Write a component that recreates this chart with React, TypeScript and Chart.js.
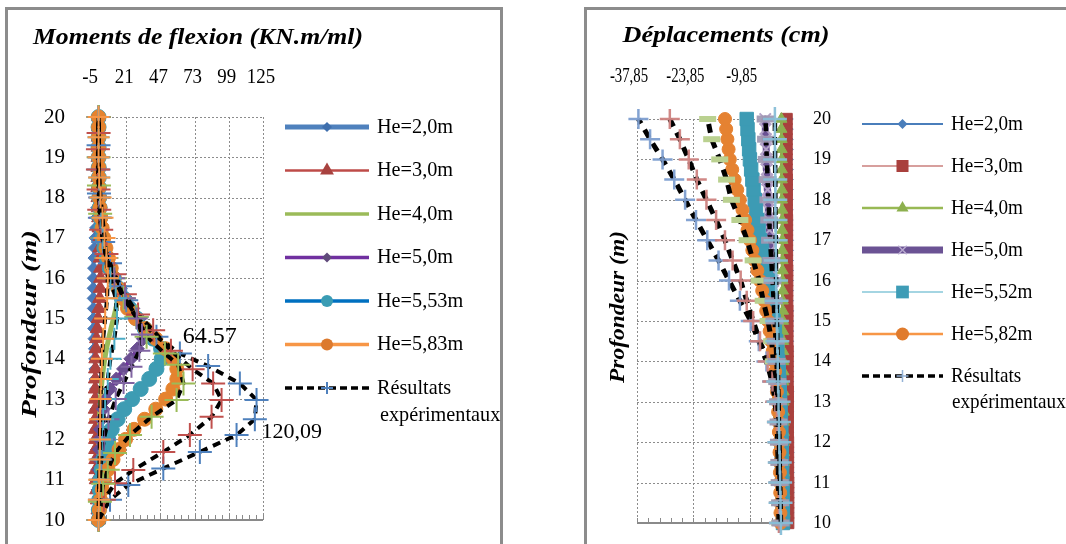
import React, { useEffect, useRef } from "react";
import { Chart, registerables } from "chart.js";
Chart.register(...registerables);

const SERIF = "'Liberation Serif', 'Times New Roman', Times, serif";
const GRID = "#8c8c8c";
const AXIS = "#8a8a8a";

// ---------------- Shared depth values (Profondeur, m) ----------------
const depthTicks = [10, 11, 12, 13, 14, 15, 16, 17, 18, 19, 20];
const depthModel = [10, 10.25, 10.5, 10.75, 11, 11.25, 11.5, 11.75, 12, 12.25, 12.5, 12.75, 13, 13.25, 13.5, 13.75, 14, 14.25, 14.5, 14.75, 15, 15.25, 15.5, 15.75, 16, 16.25, 16.5, 16.75, 17, 17.25, 17.5, 17.75, 18, 18.25, 18.5, 18.75, 19, 19.25, 19.5, 19.75, 20];
const depthHalf = [10, 10.5, 11, 11.5, 12, 12.5, 13, 13.5, 14, 14.5, 15, 15.5, 16, 16.5, 17, 17.5, 18, 18.5, 19, 19.5, 20];

// ---------------- Left chart: Moments de flexion (KN.m/ml) ----------------
const momentTicks = [-5, 21, 47, 73, 99, 125];
const momentTickLabels = ["-5", "21", "47", "73", "99", "125"];
const momentLegend = ["He=2,0m", "He=3,0m", "He=4,0m", "He=5,0m", "He=5,53m", "He=5,83m", "Résultats"];

const momentHe20 = [0, -0.5, -0.8, -1, -1, -1.2, -1.3, -1.5, -1.6, -1.7, -1.8, -2, -2.1, -2.3, -2.5, -2.7, -3, -3.2, -3.5, -3.7, -3.9, -4, -4.1, -4.1, -4, -3.8, -3.5, -3.1, -2.7, -2.2, -1.8, -1.4, -1, -0.7, -0.5, -0.3, -0.2, -0.1, 0, 0, 0];
const momentHe30 = [0, -0.5, -1, -1.5, -1.8, -2, -2.2, -2.3, -2.4, -2.5, -2.5, -2.6, -2.6, -2.6, -2.5, -2.4, -2.2, -2, -1.6, -1, -0.4, 0.2, 0.8, 1.2, 1.4, 1.4, 1.2, 0.9, 0.6, 0.3, 0, -0.3, -0.5, -0.6, -0.6, -0.6, -0.5, -0.4, -0.3, -0.1, 0];
const momentHe40 = [0, 0, 0, 0, 0, 0.1, 0.2, 0.3, 0.4, 0.6, 0.8, 1.1, 1.5, 2, 2.7, 3.6, 4.7, 6, 7.6, 9.4, 11.3, 13.2, 14.6, 13.5, 10.5, 7.8, 5.6, 3.9, 2.6, 1.7, 1.1, 0.7, 0.4, 0.2, 0.1, 0, 0, 0, 0, 0, 0];
const momentHe50 = [0, 0, 0, 0.1, 0.2, 0.3, 0.4, 0.6, 0.9, 1.4, 2.2, 3.5, 5.5, 8.8, 13.5, 19, 24.5, 29.5, 34, 35.5, 31, 26, 21, 16.5, 12.5, 9.2, 6.6, 4.6, 3.1, 2, 1.3, 0.8, 0.5, 0.3, 0.2, 0.1, 0, 0, 0, 0, 0];
const momentHe553 = [0, 0.2, 0.5, 0.9, 1.5, 2.4, 3.6, 5.3, 7.4, 10, 14.5, 19.5, 25.5, 32, 38.5, 44, 48, 47.5, 41.5, 35, 29, 23.5, 19, 15, 11.5, 8.5, 6.2, 4.4, 3, 2, 1.3, 0.8, 0.5, 0.3, 0.2, 0.1, 0, 0, 0, 0, 0];
const momentHe583 = [0, 0.6, 1.5, 2.8, 4.6, 7.2, 11, 15.5, 20.5, 27, 35, 43.5, 51, 56.5, 59.5, 59.5, 56.5, 51, 43.5, 35.5, 28, 22, 18, 14.8, 12, 9.6, 7.5, 5.6, 4, 2.7, 1.7, 1, 0.6, 0.3, 0.2, 0.1, 0, 0, 0, 0, 0];

const expDepthA = [10, 10.5, 10.87, 11.28, 11.69, 12.11, 12.5, 12.98, 13.39, 13.82, 14.13, 14.55, 15.04, 15.45, 15.8, 16.37, 16.9, 17.5, 18.1, 18.7, 19.3, 20];
const momentExpA = [0, 8.7, 22.6, 49.2, 77, 104.9, 118.8, 120.09, 107.4, 83.3, 61.8, 44, 28.9, 21, 16.3, 8.7, 3.5, 1, 0.3, 0, 0, 0];
const expDepthB = [10, 10.5, 10.91, 11.24, 11.69, 12.11, 12.56, 12.98, 13.39, 13.74, 14.2, 14.71, 15.1, 15.6, 16.1, 16.6, 17.2, 17.7, 18.2, 18.7, 19.2, 19.6, 20];
const momentExpB = [0, 4, 12.5, 26.4, 49.2, 69.4, 85.9, 93.5, 87.1, 71.5, 55, 41.5, 30, 20, 12, 6, 2, 0.5, 0, -0.5, -0.5, 0, 0];
const expDepthC = [10, 10.45, 10.9, 11.25, 11.66, 12.11, 12.56, 12.98, 13.39, 13.85, 14.13, 14.55, 15.04, 15.5, 16, 16.5, 17, 17.6, 18.3, 19, 20];
const momentExpC = [0, 1, 3.5, 7, 12.5, 23.9, 40.3, 59.3, 64.57, 60.5, 50.4, 36.5, 28.9, 19, 12, 6, 3, 1.2, 0.3, 0, 0];
const expDepthD = [10, 10.5, 11, 11.5, 12, 12.5, 13, 13.4, 13.8, 14.2, 14.6, 15, 15.5, 16, 16.5, 17, 17.5, 18, 19, 20];
const momentExpD = [0, 0.3, 1, 2, 4, 7.5, 13, 19, 25, 31, 33, 29, 20, 12, 6, 3, 1.2, 0.5, 0, 0];
const momentExpE = [0, 0.5, 1, 1.5, 2.5, 3.5, 5, 7, 9, 12, 14, 13, 9, 6, 3.5, 2, 1, 0.5, 0, 0, 0];
const momentExpF = [0, 0.2, 0.5, 0.8, 1, 1.2, 1.5, 2, 2.5, 3.5, 5, 6.5, 7, 6, 4.5, 3, 1.5, 0.5, 0, 0, 0];

const momentNotes = [
  { text: "64.57", x: 84.6, y: 14.54, size: 24 },
  { text: "120,09", x: 146.9, y: 12.18, size: 22 },
];

// ---------------- Right chart: Déplacements (cm) ----------------
const dispTicks = [-37.85, -23.85, -9.85];
const dispTickLabels = ["-37,85", "-23,85", "-9,85"];
const dispMin = -37.85;
const dispMax = 0.15;
const dispLegend = ["He=2,0m", "He=3,0m", "He=4,0m", "He=5,0m", "He=5,52m", "He=5,82m", "Résultats"];

const dispHe20 = [-0.1, -0.1, -0.1, -0.1, -0.1, -0.1, -0.1, -0.1, -0.15, -0.15, -0.15, -0.15, -0.15, -0.15, -0.2, -0.2, -0.2, -0.2, -0.2, -0.2, -0.2, -0.2, -0.25, -0.25, -0.25, -0.25, -0.25, -0.25, -0.25, -0.3, -0.3, -0.3, -0.3, -0.3, -0.3, -0.3, -0.3, -0.3, -0.3, -0.3, -0.3];
const dispHe30 = [-0.3, -0.3, -0.3, -0.3, -0.3, -0.35, -0.35, -0.35, -0.35, -0.4, -0.4, -0.4, -0.4, -0.4, -0.45, -0.45, -0.45, -0.45, -0.5, -0.5, -0.5, -0.5, -0.55, -0.55, -0.55, -0.55, -0.6, -0.6, -0.6, -0.6, -0.6, -0.65, -0.65, -0.65, -0.65, -0.7, -0.7, -0.7, -0.7, -0.7, -0.7];
const dispHe40 = [-1.2, -1.2, -1.25, -1.25, -1.3, -1.3, -1.3, -1.35, -1.35, -1.4, -1.4, -1.4, -1.45, -1.45, -1.5, -1.5, -1.5, -1.55, -1.55, -1.6, -1.6, -1.6, -1.65, -1.65, -1.7, -1.7, -1.7, -1.75, -1.75, -1.8, -1.8, -1.8, -1.85, -1.85, -1.9, -1.9, -1.9, -1.95, -1.95, -2, -2];
const dispHe50 = [-1.7, -1.75, -1.8, -1.85, -1.9, -1.95, -2, -2.1, -2.2, -2.3, -2.4, -2.5, -2.6, -2.7, -2.8, -2.9, -3, -3.15, -3.3, -3.45, -3.6, -3.75, -3.9, -4.05, -4.2, -4.35, -4.5, -4.65, -4.8, -4.95, -5.1, -5.2, -5.3, -5.4, -5.5, -5.6, -5.7, -5.8, -5.85, -5.95, -6];
const dispHe552 = [-1.6, -1.62, -1.65, -1.7, -1.75, -1.8, -1.85, -1.9, -1.95, -2, -2.1, -2.2, -2.3, -2.4, -2.5, -2.65, -2.8, -3, -3.3, -3.6, -3.9, -4.2, -4.5, -4.9, -5.3, -5.8, -6.3, -6.8, -7.3, -7.65, -8, -8.3, -8.6, -8.9, -9.2, -9.5, -9.8, -10, -10.2, -10.4, -10.6];
const dispHe582 = [-2.2, -2.22, -2.25, -2.28, -2.3, -2.35, -2.4, -2.45, -2.5, -2.6, -2.7, -2.8, -2.95, -3.1, -3.3, -3.55, -3.8, -4.15, -4.5, -4.9, -5.3, -5.75, -6.2, -6.75, -7.3, -7.95, -8.6, -9.2, -9.8, -10.4, -11, -11.65, -12.3, -12.95, -13.6, -14.2, -14.8, -15.1, -15.4, -15.7, -16];

const dispExpA = [-2.5, -2.5, -2.6, -2.7, -2.8, -3, -3.4, -4.3, -5.7, -7.6, -9.6, -12.3, -15, -17.6, -20.4, -23.2, -25.9, -28.6, -31.5, -34.6, -37.5];
const dispExpB = [-2.6, -2.6, -2.7, -2.8, -2.9, -3.1, -3.5, -4.2, -5.4, -7.3, -9, -10.6, -12.1, -14.1, -16, -18.2, -20.6, -23, -25, -27.2, -29.7];
const dispExpC = [-2.4, -2.4, -2.5, -2.5, -2.6, -2.7, -2.9, -3.1, -4, -4.4, -5.3, -6.5, -7.5, -9, -10.5, -12.3, -14.4, -15.6, -17.3, -19.3, -20.3];
const dispExpD = [-2.2, -2.3, -2.4, -2.5, -2.6, -2.7, -2.8, -3, -3.2, -3.4, -3.7, -3.9, -4.2, -4.5, -4.8, -5, -5.2, -5.4, -5.6, -5.8, -5.9];
const dispExpE = [-2.1, -2.2, -2.3, -2.4, -2.5, -2.6, -2.7, -2.8, -2.9, -3, -3.1, -3.2, -3.3, -3.35, -3.4, -3.45, -3.5, -3.5, -3.55, -3.6, -3.6];

// ---------------- helpers ----------------
function pts(values: number[], depths: number[]) {
  return depths.map((d, i) => ({ x: values[i], y: d }));
}

function modelSet(label: string, values: number[], depths: number[], st: any) {
  return {
    label,
    data: pts(values, depths),
    showLine: true,
    borderColor: st.line,
    borderWidth: st.lw,
    tension: 0,
    clip: false,
    borderJoinStyle: "round",
    borderCapStyle: "round",
    pointStyle: st.ps || "circle",
    pointRadius: st.r || 0,
    pointHoverRadius: st.r || 0,
    pointBackgroundColor: st.fill,
    pointBorderColor: st.stroke || st.fill,
    pointBorderWidth: st.pbw ?? 1,
  };
}

function expSet(label: string, values: number[], depths: number[], st: any) {
  return {
    label,
    data: pts(values, depths),
    showLine: true,
    borderColor: "#000",
    borderWidth: st.lw || 4,
    borderDash: st.dash || [8, 6],
    tension: 0,
    clip: false,
    pointStyle: st.ps || "cross",
    pointRadius: st.r,
    pointHoverRadius: st.r,
    pointBackgroundColor: st.mc,
    pointBorderColor: st.mc,
    pointBorderWidth: st.pbw || 2,
  };
}

function drawText(ctx: any, s: string, x: number, y: number, font: string, align: string, opt: any = {}) {
  ctx.save();
  ctx.translate(x, y);
  if (opt.rot) ctx.rotate(opt.rot);
  ctx.font = font;
  ctx.fillStyle = "#000";
  ctx.textAlign = align;
  ctx.textBaseline = "middle";
  let sx = opt.sx ?? 1;
  if (opt.w) sx = opt.w / ctx.measureText(s).width;
  ctx.scale(sx, 1);
  ctx.fillText(s, 0, 0);
  ctx.restore();
}

function drawMarker(ctx: any, m: any, x: number, y: number) {
  if (!m) return;
  const r = m.r;
  ctx.save();
  ctx.setLineDash([]);
  ctx.fillStyle = m.fill || m.stroke;
  ctx.strokeStyle = m.stroke || m.fill;
  ctx.lineWidth = m.lw || 1;
  ctx.beginPath();
  switch (m.style) {
    case "circle":
      ctx.arc(x, y, r, 0, Math.PI * 2);
      ctx.fill();
      break;
    case "rectRot":
      ctx.moveTo(x, y - r);
      ctx.lineTo(x + r, y);
      ctx.lineTo(x, y + r);
      ctx.lineTo(x - r, y);
      ctx.closePath();
      ctx.fill();
      break;
    case "rect": {
      const s = r * Math.SQRT1_2;
      ctx.rect(x - s, y - s, 2 * s, 2 * s);
      ctx.fill();
      break;
    }
    case "triangle":
      ctx.moveTo(x, y - r);
      ctx.lineTo(x + r * 0.866, y + r * 0.5);
      ctx.lineTo(x - r * 0.866, y + r * 0.5);
      ctx.closePath();
      ctx.fill();
      break;
    case "cross":
      ctx.moveTo(x - r, y);
      ctx.lineTo(x + r, y);
      ctx.moveTo(x, y - r);
      ctx.lineTo(x, y + r);
      ctx.stroke();
      break;
    case "crossRot": {
      const c = r * Math.SQRT1_2;
      ctx.moveTo(x - c, y - c);
      ctx.lineTo(x + c, y + c);
      ctx.moveTo(x + c, y - c);
      ctx.lineTo(x - c, y + c);
      ctx.stroke();
      break;
    }
  }
  ctx.restore();
}

function drawLegend(ctx: any, labels: string[], styles: any[], lay: any) {
  styles.forEach((st, i) => {
    const y = lay.y0 + i * lay.dy;
    ctx.save();
    ctx.strokeStyle = st.line;
    ctx.lineWidth = st.lw;
    ctx.setLineDash(st.dash || []);
    ctx.beginPath();
    ctx.moveTo(lay.x0, y);
    ctx.lineTo(lay.x1, y);
    ctx.stroke();
    ctx.restore();
    drawMarker(ctx, st.marker, (lay.x0 + lay.x1) / 2, y);
    drawText(ctx, labels[i], lay.tx, y, lay.font, "left", { sx: lay.sx });
  });
  drawText(ctx, "expérimentaux", lay.tx2, lay.y2, lay.font, "left", { sx: lay.sx });
}

function drawPanel(ctx: any, x1: number, x2: number) {
  ctx.save();
  ctx.strokeStyle = "#8c8c8c";
  ctx.lineWidth = 3;
  ctx.beginPath();
  ctx.moveTo(x1, 620);
  ctx.lineTo(x1, 8.5);
  ctx.lineTo(x2, 8.5);
  ctx.lineTo(x2, 620);
  ctx.stroke();
  ctx.restore();
}

function drawGrid(chart: any, xTicks: number[], yTicks: number[], minorStep: number, xMin: number, xMax: number) {
  const { ctx, chartArea: a, scales } = chart;
  const xs = scales.x;
  const ys = scales.y;
  ctx.save();
  ctx.strokeStyle = GRID;
  ctx.lineWidth = 1;
  ctx.setLineDash([2, 2]);
  ctx.beginPath();
  xTicks.forEach((t) => {
    const px = Math.round(xs.getPixelForValue(t)) + 0.5;
    ctx.moveTo(px, a.top);
    ctx.lineTo(px, a.bottom);
  });
  yTicks.forEach((d) => {
    const py = Math.round(ys.getPixelForValue(d)) + 0.5;
    ctx.moveTo(a.left, py);
    ctx.lineTo(a.right, py);
  });
  ctx.stroke();
  ctx.setLineDash([]);
  ctx.strokeStyle = AXIS;
  ctx.lineWidth = 2;
  ctx.beginPath();
  ctx.moveTo(a.left, a.bottom);
  ctx.lineTo(a.right, a.bottom);
  ctx.stroke();
  ctx.lineWidth = 1;
  ctx.beginPath();
  for (let v = xMin; v <= xMax + 1e-6; v += minorStep) {
    const px = Math.round(xs.getPixelForValue(v)) + 0.5;
    ctx.moveTo(px, a.bottom);
    ctx.lineTo(px, a.bottom - 5);
  }
  ctx.stroke();
  ctx.restore();
}

function baseOptions(area: any, xMin: number, xMax: number, yPos: string) {
  return {
    responsive: false,
    maintainAspectRatio: false,
    animation: false,
    devicePixelRatio: 1,
    events: [],
    layout: { padding: { left: area.l, right: 1066 - area.r, top: area.t, bottom: 544 - area.b } },
    plugins: { legend: { display: false }, tooltip: { enabled: false }, title: { display: false } },
    scales: {
      x: {
        type: "linear",
        position: "top",
        min: xMin,
        max: xMax,
        grid: { display: false, drawTicks: false },
        border: { display: false },
        ticks: { display: false },
        afterFit: (s: any) => {
          s.height = 0;
        },
      },
      y: {
        type: "linear",
        position: yPos,
        min: 10,
        max: 20,
        grid: { display: false, drawTicks: false },
        border: { display: false },
        ticks: { display: false },
        afterFit: (s: any) => {
          s.width = 0;
        },
      },
    },
  };
}

// ---------------- left chart config ----------------
const leftLegendStyles = [
  { line: "#4F81BD", lw: 5, marker: { style: "rectRot", r: 5, fill: "#3F6FAD" } },
  { line: "#BE4B48", lw: 2.5, marker: { style: "triangle", r: 8, fill: "#A8423F" } },
  { line: "#9BBB59", lw: 3.5 },
  { line: "#7030A0", lw: 3.5, marker: { style: "rectRot", r: 5, fill: "#604A7B" } },
  { line: "#0070C0", lw: 3.5, marker: { style: "circle", r: 6, fill: "#3A9CB4" } },
  { line: "#F79646", lw: 3.5, marker: { style: "circle", r: 6, fill: "#DC7A2E" } },
  { line: "#000", lw: 3.5, dash: [7, 4], marker: { style: "cross", r: 6, stroke: "#4F81BD", lw: 2 } },
];

function leftConfig(): any {
  const datasets = [
    expSet("expF", momentExpF, depthHalf, { mc: "#F79646", r: 11 }),
    expSet("expE", momentExpE, depthHalf, { mc: "#4BACC6", r: 11 }),
    expSet("expD", momentExpD, expDepthD, { mc: "#8064A2", r: 11 }),
    expSet("expC", momentExpC, expDepthC, { mc: "#9BBB59", r: 12 }),
    expSet("expB", momentExpB, expDepthB, { mc: "#C0504D", r: 12 }),
    expSet("Résultats expérimentaux", momentExpA, expDepthA, { mc: "#4F81BD", r: 12 }),
    modelSet("He=5,83m", momentHe583, depthModel, { line: "#F79646", lw: 4, ps: "circle", r: 7, fill: "#E5832F" }),
    modelSet("He=5,53m", momentHe553, depthModel, { line: "#0070C0", lw: 4, ps: "circle", r: 7.5, fill: "#3D9CB3" }),
    modelSet("He=5,0m", momentHe50, depthModel, { line: "#7030A0", lw: 4, ps: "rectRot", r: 7, fill: "#6A4E91" }),
    modelSet("He=4,0m", momentHe40, depthModel, { line: "#9BBB59", lw: 5, r: 0, fill: "#9BBB59" }),
    modelSet("He=3,0m", momentHe30, depthModel, { line: "#BE4B48", lw: 3, ps: "triangle", r: 8, fill: "#B0433F" }),
    modelSet("He=2,0m", momentHe20, depthModel, { line: "#4F81BD", lw: 4, ps: "rectRot", r: 6, fill: "#4A7AB8" }),
  ];
  const plugin = {
    id: "leftDecor",
    beforeDraw(chart: any) {
      drawPanel(chart.ctx, 6.5, 501.5);
    },
    beforeDatasetsDraw(chart: any) {
      drawGrid(chart, momentTicks.slice(1), depthTicks.slice(1), (momentTicks[1] - momentTicks[0]) / 5, momentTicks[0], momentTicks[momentTicks.length - 1]);
    },
    afterDraw(chart: any) {
      const { ctx, scales } = chart;
      const xs = scales.x;
      const ys = scales.y;
      drawText(ctx, "Moments de flexion (KN.m/ml)", 198, 38, `italic bold 23px ${SERIF}`, "center", { w: 330 });
      drawText(ctx, "Profondeur (m)", 30, 324, `italic bold 22px ${SERIF}`, "center", { rot: -Math.PI / 2, w: 188 });
      momentTicks.forEach((t, i) => {
        drawText(ctx, momentTickLabels[i], xs.getPixelForValue(t) - 2, 77, `21px ${SERIF}`, "center", { sx: 0.9 });
      });
      depthTicks.forEach((d) => {
        drawText(ctx, String(d), 65, ys.getPixelForValue(d), `21px ${SERIF}`, "right");
      });
      momentNotes.forEach((n) => {
        drawText(ctx, n.text, xs.getPixelForValue(n.x), ys.getPixelForValue(n.y), `${n.size}px ${SERIF}`, "center");
      });
      drawLegend(ctx, momentLegend, leftLegendStyles, {
        x0: 285, x1: 369, y0: 127, dy: 43.5, tx: 377, tx2: 380, y2: 415, font: `22px ${SERIF}`, sx: 0.92,
      });
    },
  };
  return {
    type: "scatter",
    data: { datasets },
    options: baseOptions({ l: 92, r: 263, t: 117, b: 520 }, momentTicks[0], momentTicks[momentTicks.length - 1], "left"),
    plugins: [plugin],
  };
}

// ---------------- right chart config ----------------
const rightLegendStyles = [
  { line: "#4A7EBB", lw: 2, marker: { style: "rectRot", r: 5, fill: "#4A7EBB" } },
  { line: "#B0403D", lw: 1.2, marker: { style: "rect", r: 8.5, fill: "#A9403D" } },
  { line: "#98B954", lw: 2.5, marker: { style: "triangle", r: 7, fill: "#8DB04E" } },
  { line: "#6B5394", lw: 7, marker: { style: "crossRot", r: 6, stroke: "#B9AAD0", lw: 1.5 } },
  { line: "#4BACC6", lw: 1.2, marker: { style: "rect", r: 9, fill: "#3E9CB6" } },
  { line: "#F79646", lw: 2.5, marker: { style: "circle", r: 6.5, fill: "#E07B2C" } },
  { line: "#000", lw: 3.5, dash: [7, 4], marker: { style: "cross", r: 6, stroke: "#95B3D7", lw: 1.5 } },
];

function rightConfig(): any {
  const datasets = [
    expSet("expE", dispExpE, depthHalf, { mc: "rgba(135,190,215,0.95)", r: 12, pbw: 2.5, lw: 4.5 }),
    expSet("expD", dispExpD, depthHalf, { mc: "rgba(160,152,178,0.95)", r: 9, ps: "line", pbw: 7, lw: 4.5 }),
    expSet("expC", dispExpC, depthHalf, { mc: "#BAD190", r: 8.5, ps: "line", pbw: 6, lw: 5, dash: [9, 7] }),
    expSet("expB", dispExpB, depthHalf, { mc: "rgba(205,130,128,0.95)", r: 10, pbw: 2.5, lw: 5, dash: [9, 7] }),
    expSet("Résultats expérimentaux", dispExpA, depthHalf, { mc: "rgba(125,158,208,0.95)", r: 10, pbw: 2.5, lw: 5, dash: [9, 7] }),
    modelSet("He=5,82m", dispHe582, depthModel, { line: "#F79646", lw: 3, ps: "circle", r: 6.5, fill: "#E58232" }),
    modelSet("He=5,52m", dispHe552, depthModel, { line: "#4BACC6", lw: 1, ps: "rect", r: 9.5, fill: "#3D9BB4" }),
    modelSet("He=5,0m", dispHe50, depthModel, { line: "#6B5394", lw: 7, ps: "crossRot", r: 8, fill: "#B3A2C7", stroke: "#B3A2C7", pbw: 2 }),
    modelSet("He=4,0m", dispHe40, depthModel, { line: "#98B954", lw: 2.5, ps: "triangle", r: 6.5, fill: "#8CB050" }),
    modelSet("He=3,0m", dispHe30, depthModel, { line: "#BE4B48", lw: 1, ps: "rect", r: 8, fill: "#A9413E" }),
    modelSet("He=2,0m", dispHe20, depthModel, { line: "#4A7EBB", lw: 2, ps: "rectRot", r: 5, fill: "#4A7EBB" }),
  ];
  const plugin = {
    id: "rightDecor",
    beforeDraw(chart: any) {
      drawPanel(chart.ctx, 585.5, 1090);
    },
    beforeDatasetsDraw(chart: any) {
      drawGrid(chart, dispTicks, depthTicks.slice(1), (dispTicks[1] - dispTicks[0]) / 5, dispMin, dispMax);
    },
    afterDraw(chart: any) {
      const { ctx, scales } = chart;
      const xs = scales.x;
      const ys = scales.y;
      drawText(ctx, "Déplacements (cm)", 726, 36, `italic bold 23px ${SERIF}`, "center", { w: 207 });
      drawText(ctx, "Profondeur (m)", 619, 307, `italic bold 20px ${SERIF}`, "center", { rot: -Math.PI / 2, w: 152 });
      dispTicks.forEach((t, i) => {
        drawText(ctx, dispTickLabels[i], xs.getPixelForValue(t) - 8, 77, `20px ${SERIF}`, "center", { sx: 0.74 });
      });
      depthTicks.forEach((d) => {
        drawText(ctx, String(d), 813, ys.getPixelForValue(d), `19px ${SERIF}`, "left", { sx: 0.95 });
      });
      drawLegend(ctx, dispLegend, rightLegendStyles, {
        x0: 862, x1: 943, y0: 124, dy: 42, tx: 951, tx2: 952, y2: 402, font: `22px ${SERIF}`, sx: 0.87,
      });
    },
  };
  return {
    type: "scatter",
    data: { datasets },
    options: baseOptions({ l: 637, r: 790, t: 119, b: 523 }, dispMin, dispMax, "right"),
    plugins: [plugin],
  };
}

export default function App() {
  const leftRef = useRef<HTMLCanvasElement>(null);
  const rightRef = useRef<HTMLCanvasElement>(null);
  useEffect(() => {
    const c1 = new Chart(leftRef.current as HTMLCanvasElement, leftConfig());
    const c2 = new Chart(rightRef.current as HTMLCanvasElement, rightConfig());
    return () => {
      c1.destroy();
      c2.destroy();
    };
  }, []);
  return (
    <div style={{ position: "fixed", left: 0, top: 0, width: 1066, height: 544, overflow: "hidden", background: "#fff" }}>
      <canvas ref={leftRef} width={1066} height={544} style={{ position: "absolute", left: 0, top: 0 }} />
      <canvas ref={rightRef} width={1066} height={544} style={{ position: "absolute", left: 0, top: 0 }} />
    </div>
  );
}
